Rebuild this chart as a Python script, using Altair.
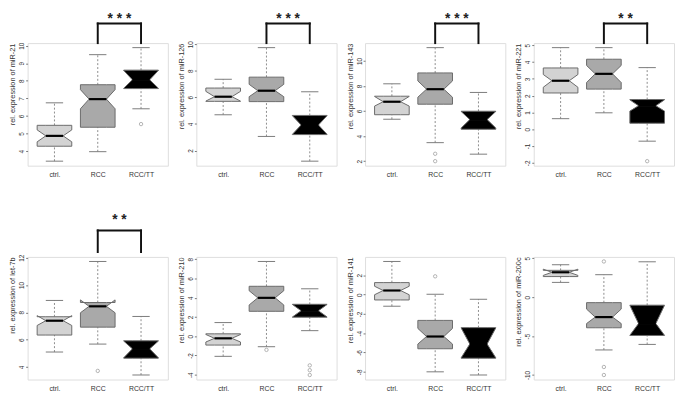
import altair as alt
import pandas as pd

GROUPS = ["ctrl.", "RCC", "RCC/TT"]
BOX_FILLS = ["#d3d3d3", "#a9a9a9", "#000000"]
MIRNAS = ["miR-21", "miR-126", "miR-143", "miR-221",
          "let-7b", "miR-210", "miR-141", "miR-200c"]

WHISKER_LOW = [
    [3.43, 3.97, 6.41],
    [4.69, 3.06, 1.20],
    [5.35, 3.48, 2.56],
    [0.63, 0.98, -0.71],
    [5.10, 5.68, 3.42],
    [-2.09, -1.09, 0.58],
    [-1.20, -8.00, -8.33],
    [1.90, -6.78, -6.07],
]
HINGE_LOW = [
    [4.28, 5.36, 7.56],
    [5.70, 5.68, 3.20],
    [5.71, 6.55, 4.55],
    [2.16, 2.39, 0.36],
    [6.34, 6.92, 4.65],
    [-0.92, 2.59, 1.98],
    [-0.55, -5.61, -6.59],
    [2.65, -3.93, -4.92],
]
NOTCH_LOW = [
    [4.53, 6.41, 7.58],
    [5.72, 6.05, 3.22],
    [6.40, 7.11, 4.65],
    [2.50, 2.78, 1.08],
    [7.04, 7.97, 4.68],
    [-0.60, 3.25, 2.00],
    [-0.01, -5.12, -6.55],
    [2.80, -3.39, -4.90],
]
MEDIAN = [
    [4.87, 6.96, 8.06],
    [6.05, 6.50, 3.92],
    [6.75, 7.75, 5.32],
    [2.89, 3.30, 1.40],
    [7.39, 8.44, 5.33],
    [-0.22, 3.99, 2.65],
    [0.43, -4.34, -5.12],
    [3.20, -2.56, -3.39],
]
NOTCH_HIGH = [
    [5.21, 7.50, 8.59],
    [6.45, 6.98, 4.62],
    [7.17, 8.41, 5.97],
    [3.26, 3.80, 1.75],
    [7.76, 8.91, 5.90],
    [0.18, 4.73, 3.30],
    [0.87, -3.50, -3.45],
    [3.60, -1.53, -1.05],
]
HINGE_HIGH = [
    [5.47, 7.78, 8.61],
    [6.70, 7.52, 4.64],
    [7.19, 9.05, 5.99],
    [3.65, 4.17, 1.77],
    [7.68, 8.72, 5.92],
    [0.25, 5.19, 3.32],
    [1.25, -2.67, -3.42],
    [3.45, -0.70, -1.03],
]
WHISKER_HIGH = [
    [6.75, 9.49, 9.89],
    [7.36, 9.74, 6.42],
    [8.18, 11.07, 7.49],
    [4.86, 4.86, 3.67],
    [8.87, 11.72, 7.70],
    [1.42, 7.77, 4.93],
    [3.44, 0.04, -0.48],
    [4.17, 2.89, 4.55],
]
OUTLIERS = [
    [[], [], [5.54]],
    [[], [], []],
    [[], [2.59, 2.00], []],
    [[], [], [-1.90]],
    [[], [3.72], []],
    [[], [-1.42], [-3.03, -3.53, -4.03]],
    [[], [1.90], []],
    [[], [4.59, -8.97, -10.00], []],
]
Y_TICKS = [
    [4, 5, 6, 7, 8, 9, 10],
    [2, 4, 6, 8, 10],
    [2, 4, 6, 8, 10],
    [-2, -1, 0, 1, 2, 3, 4, 5],
    [4, 6, 8, 10, 12],
    [-4, -2, 0, 2, 4, 6, 8],
    [-8, -6, -4, -2, 0, 2],
    [-10, -5, 0, 5],
]
SIGNIFICANCE = ["* * *", "* * *", "* * *", "* *", "* *", "", "", ""]
COMPARED = [2, 3]  # RCC vs RCC/TT

# ---- style / layout ----
FONT = "Liberation Sans"
W, H = 143, 125
HALF = 0.4        # half box width (boxwex 0.8)
NOTCH_FRAC = 0.5  # notch depth relative to half width
STAPLE = 0.2      # half staple width
ROW_STAR_Y = [-20, -34]
ROW_BRACKET_TOP = [-20, -27]
ROW_BRACKET_BOTTOM = [0, -5]


def panel(i):
    row = i // 4
    pos = [1, 2, 3]
    halves, whisk, staple, med, pts = [], [], [], [], []
    for g, name in enumerate(GROUPS):
        x = pos[g]
        left, right = x - HALF, x + HALF
        inner = HALF * NOTCH_FRAC
        xs = [left, left + inner, right - inner, right]
        lower_top = [NOTCH_LOW[i][g], MEDIAN[i][g], MEDIAN[i][g], NOTCH_LOW[i][g]]
        upper_bot = [NOTCH_HIGH[i][g], MEDIAN[i][g], MEDIAN[i][g], NOTCH_HIGH[i][g]]
        for xv, a, b in zip(xs, lower_top, upper_bot):
            halves.append({"grp": name, "part": name + "-lo", "x": xv,
                           "y": HINGE_LOW[i][g], "y2": a})
            halves.append({"grp": name, "part": name + "-hi", "x": xv,
                           "y": b, "y2": HINGE_HIGH[i][g]})
        whisk.append({"x": x, "y": WHISKER_LOW[i][g], "y2": HINGE_LOW[i][g]})
        whisk.append({"x": x, "y": HINGE_HIGH[i][g], "y2": WHISKER_HIGH[i][g]})
        for v in (WHISKER_LOW[i][g], WHISKER_HIGH[i][g]):
            staple.append({"x": x - STAPLE, "x2": x + STAPLE, "y": v})
        med.append({"x": x - inner, "x2": x + inner, "y": MEDIAN[i][g]})
        for o in OUTLIERS[i][g]:
            pts.append({"x": x, "y": o})

    vals = WHISKER_LOW[i] + WHISKER_HIGH[i] + [o for grp in OUTLIERS[i] for o in grp]
    lo, hi = min(vals), max(vals)
    pad = 0.04 * (hi - lo)
    xscale = alt.Scale(domain=[0.5 - 0.12, 3.5 + 0.12], nice=False, zero=False)
    yscale = alt.Scale(domain=[lo - pad, hi + pad], nice=False, zero=False)

    labels_js = "[" + ",".join("'" + g + "'" for g in GROUPS) + "]"
    xaxis = alt.Axis(values=[1, 2, 3], labelExpr=labels_js + "[datum.value - 1]",
                     title=None, ticks=False, domain=False, grid=False,
                     labelPadding=5, labelFontSize=7, labelColor="#333",
                     labelFont=FONT, labelAngle=0, labelFlush=False)
    yaxis = alt.Axis(values=Y_TICKS[i], labelExpr="'' + datum.value",
                     title="rel. expression of " + MIRNAS[i], titleAnchor="end",
                     titleFontSize=7.5, titleFontWeight="normal", titleFont=FONT,
                     titleColor="#333", titlePadding=2,
                     labelAngle=-90, labelAlign="center", labelBaseline="bottom",
                     labelFontSize=6.5, labelPadding=1, labelFont=FONT,
                     labelColor="#333", labelOverlap=False, labelFlush=False,
                     tickSize=2, tickColor="#777", domain=False, grid=False)

    def X(field, **kw):
        return alt.X(field, scale=xscale, axis=xaxis, **kw)

    def Y(field, **kw):
        return alt.Y(field, scale=yscale, axis=yaxis, **kw)

    whisk_l = alt.Chart(pd.DataFrame(whisk)).mark_rule(
        color="#8c8c8c", strokeDash=[2, 2], strokeWidth=1
    ).encode(x=X("x:Q"), y=Y("y:Q"), y2="y2:Q")

    staple_l = alt.Chart(pd.DataFrame(staple)).mark_rule(
        color="#7a7a7a", strokeWidth=1
    ).encode(x=X("x:Q"), x2="x2:Q", y=Y("y:Q"))

    box_l = alt.Chart(pd.DataFrame(halves)).mark_area(
        stroke="#6a6a6a", strokeWidth=1, opacity=1
    ).encode(x=X("x:Q"), y=Y("y:Q", stack=None), y2="y2:Q",
             color=alt.Color("grp:N", scale=alt.Scale(domain=GROUPS, range=BOX_FILLS),
                             legend=None),
             detail="part:N")

    med_l = alt.Chart(pd.DataFrame(med)).mark_rule(
        color="#000000", strokeWidth=2.2
    ).encode(x=X("x:Q"), x2="x2:Q", y=Y("y:Q"))

    layers = [whisk_l, staple_l, box_l, med_l]

    if pts:
        out_l = alt.Chart(pd.DataFrame(pts)).mark_point(
            shape="circle", filled=False, size=12, color="#7a7a7a", strokeWidth=0.8
        ).encode(x=X("x:Q"), y=Y("y:Q"))
        layers.append(out_l)

    star = SIGNIFICANCE[i]
    mid = (COMPARED[0] + COMPARED[1]) / 2
    star_l = alt.Chart(pd.DataFrame([{"x": mid, "s": star if star else "*"}])).mark_text(
        fontSize=14, font=FONT, fontWeight="bold", baseline="alphabetic", align="center",
        color="#222222", opacity=1 if star else 0
    ).encode(x=X("x:Q"), y=alt.value(ROW_STAR_Y[row]), text="s:N")
    layers.append(star_l)

    if star:
        top, bot = ROW_BRACKET_TOP[row], ROW_BRACKET_BOTTOM[row]
        hbar = alt.Chart(pd.DataFrame([{"x": COMPARED[0], "x2": COMPARED[1]}])).mark_rule(
            color="#111111", strokeWidth=2, strokeCap="square"
        ).encode(x=X("x:Q"), x2="x2:Q", y=alt.value(top))
        vbar = alt.Chart(pd.DataFrame([{"x": c} for c in COMPARED])).mark_rule(
            color="#111111", strokeWidth=2, strokeCap="square"
        ).encode(x=X("x:Q"), y=alt.value(top), y2=alt.value(bot))
        layers += [hbar, vbar]

    return alt.layer(*layers).properties(width=W, height=H)


chart = alt.concat(
    *[panel(i) for i in range(8)], columns=4, align="each",
    spacing={"row": 34, "column": 8}
).properties(padding=0, background="white").configure_view(
    stroke="#8f8f8f", strokeWidth=1
).configure(font=FONT)

chart.save("out.html", embed_options={"renderer": "svg", "actions": False})
